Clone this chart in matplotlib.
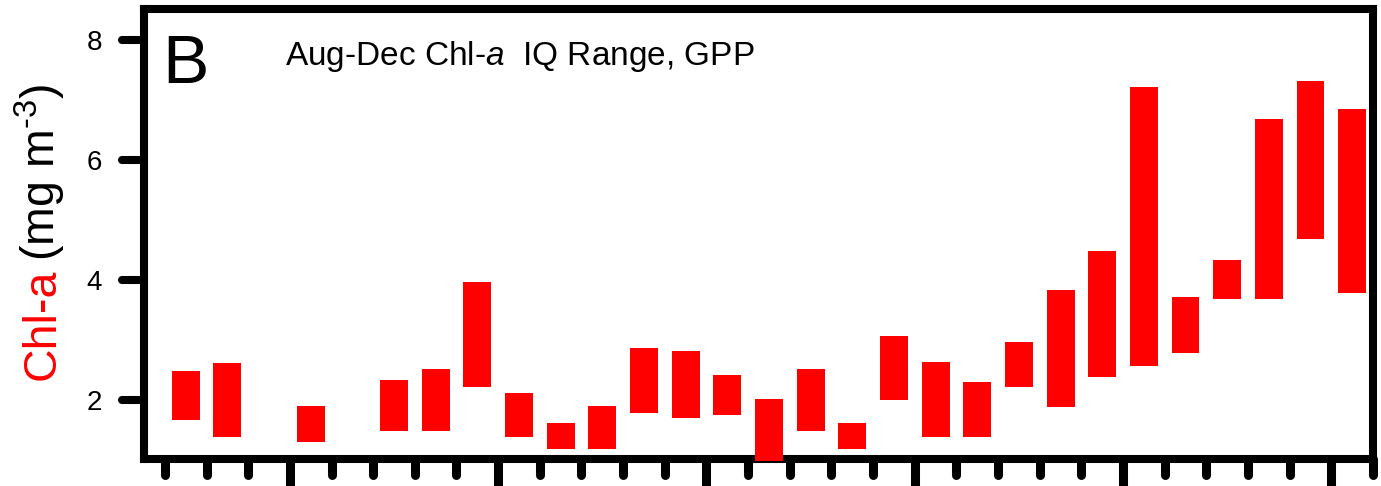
import numpy as np
import matplotlib.pyplot as plt

plt.rcParams['font.family'] = ['Liberation Sans', 'DejaVu Sans']
plt.rcParams['mathtext.fontset'] = 'custom'
plt.rcParams['mathtext.rm'] = 'Liberation Sans'
plt.rcParams['mathtext.it'] = 'Liberation Sans:italic'

# one slot per year, nan = no Aug-Dec data that year
slot = np.arange(29)
chl_q1 = [1.67, 1.39, np.nan, 1.30, np.nan, 1.49, 1.49, 2.22, 1.39, 1.19,
          1.19, 1.79, 1.70, 1.75, 0.98, 1.49, 1.19, 2.00, 1.39, 1.39,
          2.21, 1.88, 2.39, 2.57, 2.79, 3.69, 3.69, 4.69, 3.78]
chl_q3 = [2.49, 2.61, np.nan, 1.90, np.nan, 2.33, 2.51, 3.96, 2.11, 1.61,
          1.90, 2.86, 2.81, 2.41, 2.01, 2.51, 1.61, 3.06, 2.63, 2.30,
          2.96, 3.84, 4.48, 7.22, 3.71, 4.33, 6.69, 7.32, 6.85]

yticks = [2, 4, 6, 8]
xticks = np.arange(30)
xmajor = [3, 8, 13, 18, 23, 28]

q1 = np.array(chl_q1)
q3 = np.array(chl_q3)
ok = ~np.isnan(q1)

fig = plt.figure(figsize=(13.81, 4.86), dpi=100)
ax = fig.add_axes([0.1043, 0.0556, 0.8899, 0.9259])

ax.bar(slot[ok] + 0.5, q3[ok] - q1[ok], bottom=q1[ok], width=0.67,
       color='#ff0000', linewidth=0, zorder=3, clip_on=False)

ax.set_xlim(-0.5, 29)
ax.set_ylim(1.017, 8.517)

for s in ax.spines.values():
    s.set_linewidth(5.8)

ax.set_yticks(yticks)
ax.set_xticks([])
ax.tick_params(axis='y', length=0, labelsize=20, pad=30)

# hand drawn ticks with round ends
ytr = ax.get_yaxis_transform()
for v in yticks:
    ax.plot([0, -0.0179], [v, v], color='black', lw=5.8,
            solid_capstyle='round', transform=ytr, clip_on=False)
xtr = ax.get_xaxis_transform()
for t in xticks:
    if t in xmajor:
        ax.plot([t, t], [0, -0.1], color='black', lw=6.5,
                solid_capstyle='butt', transform=xtr, clip_on=False)
    else:
        ax.plot([t, t], [0, -0.036], color='black', lw=6.5,
                solid_capstyle='round', transform=xtr, clip_on=False)

ax.text(0.0146, 0.8356, 'B', fontsize=50, ha='left', va='baseline',
        transform=ax.transAxes)
ax.text(0.1147, 0.8756, 'Aug-Dec Chl-$\\it{a}$  IQ Range, GPP', fontsize=24,
        ha='left', va='baseline', transform=ax.transAxes)

# two coloured y label
red = fig.text(0.0398, 0.218, 'Chl-a', color='#ff0000', fontsize=33.5,
               rotation=90, rotation_mode='anchor', ha='left', va='baseline')
fig.canvas.draw()
bb = red.get_window_extent()
y_next = (bb.y1 + 8) / fig.bbox.height
fig.text(0.0398, y_next, '(mg m$^{\\text{-}3}$)', color='black', fontsize=33.5,
         rotation=90, rotation_mode='anchor', ha='left', va='baseline')

fig.savefig('out.png', dpi=100)
